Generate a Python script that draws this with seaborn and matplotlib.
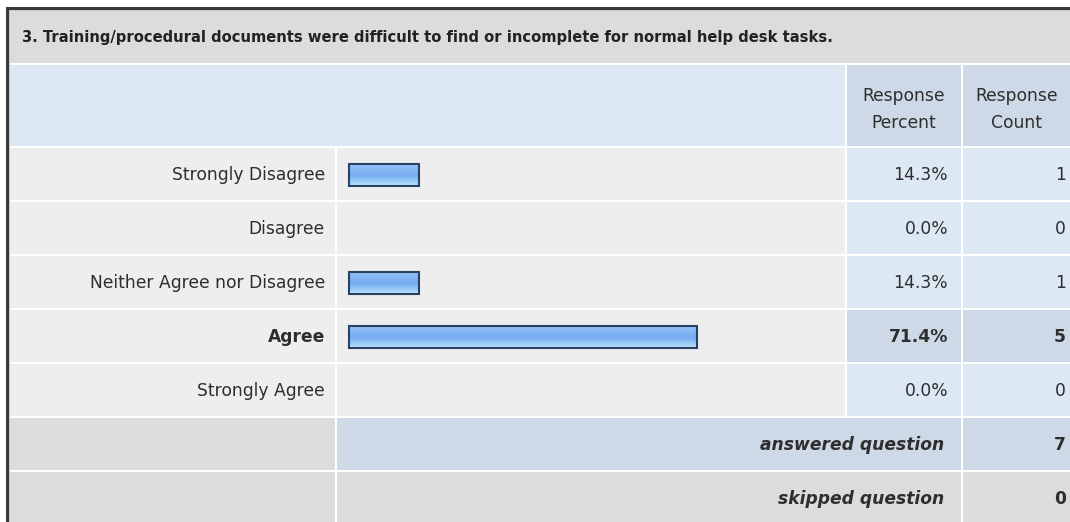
import numpy as np
import matplotlib
matplotlib.use("Agg")
import matplotlib.pyplot as plt
from matplotlib.patches import Rectangle
from matplotlib.colors import to_rgb
import seaborn as sns

# ---- survey data -------------------------------------------------------
question = ("3. Training/procedural documents were difficult to find or "
            "incomplete for normal help desk tasks.")
choices = ["Strongly Disagree", "Disagree", "Neither Agree nor Disagree",
           "Agree", "Strongly Agree"]
percents = [14.3, 0.0, 14.3, 71.4, 0.0]
counts = [1, 0, 1, 5, 0]
answered = 7
skipped = 0
percent_header = ["Response", "Percent"]
count_header = ["Response", "Count"]
footer_labels = ["answered question", "skipped question"]

# ---- canvas ------------------------------------------------------------
W, H = 1070, 522
sns.set_theme(style="white")
plt.rcParams["font.family"] = ["DejaVu Sans"]
FS = 12.3           # body text size (pt)
TXT = "#2e2e2e"

fig = plt.figure(figsize=(W / 100, H / 100), dpi=100)
fig.patch.set_facecolor("white")
bg = fig.add_axes([0, 0, 1, 1])
bg.set_xlim(0, W)
bg.set_ylim(H, 0)
bg.axis("off")


def cell(x0, y0, x1, y1, color, z=1):
    bg.add_patch(Rectangle((x0, y0), x1 - x0, y1 - y0, facecolor=color,
                           edgecolor="none", zorder=z))


# column edges (pixels)
LAB0, LAB1 = 10, 335
BAR0, BAR1 = 337, 845
PCT0, PCT1 = 847, 961
CNT0, CNT1 = 963, 1075

GREY = "#dcdcdc"
ROWBG = "#eeeeee"
BLUE = "#dde8f5"
BLUE2 = "#cdd9e6"

# outer frame
cell(6, 7, W + 10, H + 10, "#3a3a3a", 0)
cell(9, 10, W + 10, H + 10, "#c4c4c4", 0)
cell(10, 11, W + 10, H + 10, "#ffffff", 0)

# title row
cell(LAB0, 11, CNT1, 63, GREY)
bg.text(22, 37.5, question, ha="left", va="center", fontsize=10.6,
        fontweight="bold", color="#222222", zorder=3)

# header row
cell(LAB0, 65, BAR1, 146, BLUE)
cell(PCT0, 65, PCT1, 146, BLUE2)
cell(CNT0, 65, CNT1, 146, BLUE2)
for cx, lines in ((904, percent_header), (1017, count_header)):
    for k, line in enumerate(lines):
        bg.text(cx, 96 + 27 * k, line, ha="center", va="center",
                fontsize=FS, color=TXT, zorder=3)

# answer rows
ROW0, PITCH, ROWH = 148, 54, 52
top = int(np.argmax(percents))
for i, (name, p, c) in enumerate(zip(choices, percents, counts)):
    y0 = ROW0 + PITCH * i
    yc = y0 + ROWH / 2 + 1
    hl = i == top
    cell(LAB0, y0, LAB1, y0 + ROWH, ROWBG)
    cell(BAR0, y0, BAR1, y0 + ROWH, ROWBG)
    cell(PCT0, y0, PCT1, y0 + ROWH, BLUE2 if hl else BLUE)
    cell(CNT0, y0, CNT1, y0 + ROWH, BLUE2 if hl else BLUE)
    w = "bold" if hl else "normal"
    bg.text(325, yc, name, ha="right", va="center", fontsize=FS,
            fontweight=w, color=TXT, zorder=3)
    bg.text(948, yc, f"{p:.1f}%", ha="right", va="center", fontsize=FS,
            fontweight=w, color=TXT, zorder=3)
    bg.text(1066, yc, f"{c}", ha="right", va="center", fontsize=FS,
            fontweight=w, color=TXT, zorder=3)

# summary rows
for j, (label, val) in enumerate(zip(footer_labels, (answered, skipped))):
    y0 = ROW0 + PITCH * (len(choices) + j)
    yc = y0 + ROWH / 2 + 1
    mid = BLUE2 if j == 0 else GREY
    cell(LAB0, y0, LAB1, y0 + ROWH, GREY)
    cell(BAR0, y0, PCT1, y0 + ROWH, mid)
    cell(CNT0, y0, CNT1, y0 + ROWH, mid)
    bg.text(944, yc, label, ha="right", va="center", fontsize=FS,
            fontweight="bold", style="italic", color=TXT, zorder=3)
    bg.text(1066, yc, f"{val}", ha="right", va="center", fontsize=FS,
            fontweight="bold", color=TXT, zorder=3)

# ---- bar chart ---------------------------------------------------------
PX_PER_PCT = 4.878
ZERO_X = 349.0
ax_top, ax_bot = 148, 148 + PITCH * len(choices)
ax = fig.add_axes([BAR0 / W, 1 - ax_bot / H, (BAR1 - BAR0) / W,
                   (ax_bot - ax_top) / H])
ax.patch.set_alpha(0)
sns.barplot(x=percents, y=choices, orient="h", ax=ax, width=0.41,
            color="#8bbcf5", edgecolor="#2a4163", linewidth=1.5)
ax.set_xlim((BAR0 - ZERO_X) / PX_PER_PCT, (BAR1 - ZERO_X) / PX_PER_PCT)
ax.set_ylim(len(choices) - 0.5, -0.5)
ax.axis("off")

# glossy vertical gradient inside each bar
stops = [(0.0, "#9cc6f7"), (0.25, "#86b8f4"), (0.55, "#76adf0"),
         (0.8, "#98cbf8"), (1.0, "#bde8ff")]
ts = np.linspace(0, 1, 64)
grad = np.array([[np.interp(t, [s for s, _ in stops],
                            [to_rgb(c)[k] for _, c in stops])
                  for k in range(3)] for t in ts])[:, None, :]
for patch in list(ax.patches):
    bw = patch.get_width()
    if bw <= 0:
        patch.set_visible(False)
        continue
    x0, y0 = patch.get_x(), patch.get_y()
    bh = patch.get_height()
    im = ax.imshow(grad, extent=(x0, x0 + bw, y0 + bh, y0), aspect="auto",
                   interpolation="bilinear", zorder=patch.get_zorder() - 0.1)
    im.set_clip_path(patch)
    patch.set_facecolor("none")
ax.set_xlim((BAR0 - ZERO_X) / PX_PER_PCT, (BAR1 - ZERO_X) / PX_PER_PCT)
ax.set_ylim(len(choices) - 0.5, -0.5)

fig.savefig("out.png", dpi=100)
